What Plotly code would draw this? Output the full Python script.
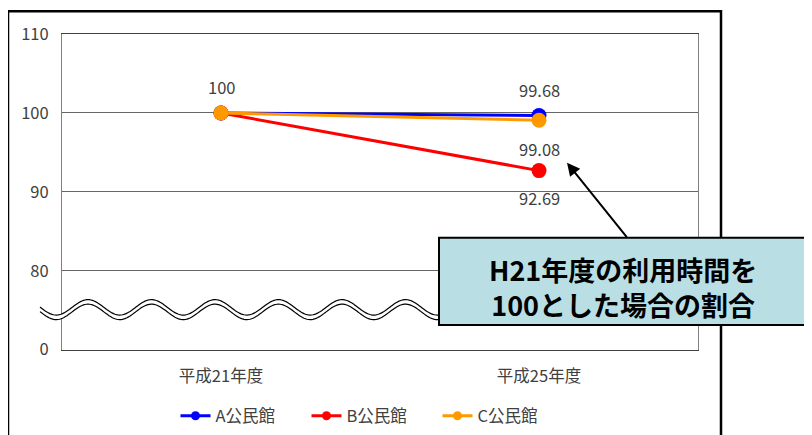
import numpy as np
import plotly.graph_objects as go

# ---- data ----
categories = ["平成21年度", "平成25年度"]
series_names = ["A公民館", "B公民館", "C公民館"]
a_values = [100, 99.68]
b_values = [100, 92.69]
c_values = [100, 99.08]
y_tick_vals = [70, 80, 90, 100, 110]
y_tick_text = ["0", "80", "90", "100", "110"]
callout_text = "H21年度の利用時間を<br>100とした場合の割合"

colors = ["#0000FF", "#FF0000", "#FF9900"]
values = [a_values, b_values, c_values]
FONT = "Noto Sans CJK JP"
TXT = "#404040"
FS = 16.5

# page is rendered with an 8px body margin
OFF = 8
W, H = 812 - OFF, 435 - OFF
L, R, T, B = 62 - OFF, 698 - OFF, 34 - OFF, 353 - OFF


def px2paper(xp, yp):
    """page pixel coordinates -> paper coordinates"""
    xp -= OFF
    yp -= OFF
    return (xp - L) / (R - L), (B - yp) / (B - T)


fig = go.Figure()
for name, vals, col in zip(series_names, values, colors):
    fig.add_trace(go.Scatter(
        x=categories, y=vals, mode="lines+markers", name=name,
        line=dict(color=col, width=3), marker=dict(color=col, size=15),
        showlegend=False, legendgroup=name, hoverinfo="x+y"))
for name, col in zip(series_names, colors):
    fig.add_trace(go.Scatter(
        x=[None], y=[None], mode="lines+markers", name=name,
        line=dict(color=col, width=3), marker=dict(color=col, size=9),
        legendgroup=name))

# data labels: (series index, point index, pixel shift)
label_specs = [(0, 0, 26), (0, 1, 25), (2, 1, -29), (1, 1, -27)]
annotations = []
for si, pi, shift in label_specs:
    v = values[si][pi]
    annotations.append(dict(
        x=categories[pi], y=v, xref="x", yref="y",
        text=f"{v:g}", showarrow=False, yshift=shift,
        font=dict(family=FONT, size=FS, color=TXT)))

shapes = []
# outer frame
fx0, fy0 = px2paper(8, 445)
fx1, fy1 = px2paper(721, 11)
shapes.append(dict(type="rect", xref="paper", yref="paper",
                   x0=fx0, y0=fy0, x1=fx1, y1=fy1,
                   line=dict(color="black", width=2.5), layer="above"))

# axis-break wave (decoration)
xs = np.arange(40, 447, 1.5)
center = 312.5 - 7.8 * np.cos(2 * np.pi * (xs - 88) / 63.5)
up = center - 2.3
lo = center + 2.3


def path_of(xa, ya):
    pts = [px2paper(x, y) for x, y in zip(xa, ya)]
    return "M " + " L ".join(f"{p[0]:.5f},{p[1]:.5f}" for p in pts)


fill_path = path_of(np.concatenate([xs, xs[::-1]]),
                    np.concatenate([up, lo[::-1]])) + " Z"
shapes.append(dict(type="path", xref="paper", yref="paper", path=fill_path,
                   fillcolor="white", line=dict(width=0), layer="above"))
for arr in (up, lo):
    shapes.append(dict(type="path", xref="paper", yref="paper",
                       path=path_of(xs, arr),
                       line=dict(color="black", width=1.2), layer="above"))

# callout box
bx0, by0 = px2paper(439, 328)
bx1, by1 = px2paper(810, 240)
shapes.append(dict(type="rect", xref="paper", yref="paper",
                   x0=bx0, y0=by0, x1=bx1, y1=by1,
                   fillcolor="#B9DFE5", line=dict(color="black", width=2),
                   layer="above"))

tx, ty = px2paper(623, 290)
annotations.append(dict(x=tx, y=ty, xref="paper", yref="paper",
                        text=f"<b>{callout_text}</b>", showarrow=False,
                        font=dict(family=FONT, size=27, color="black"),
                        align="center", xanchor="center", yanchor="middle"))

ax_, ay_ = px2paper(567, 164)
annotations.append(dict(x=ax_, y=ay_, xref="paper", yref="paper", text="",
                        showarrow=True, ax=61, ay=76, arrowhead=2,
                        arrowsize=1.3, arrowwidth=2, arrowcolor="black",
                        standoff=0))

lgx, _ = px2paper(372, 410)
lgy_container = (H - (416 - OFF)) / H

fig.update_layout(
    width=W, height=H,
    margin=dict(l=L, r=W - R, t=T, b=H - B),
    paper_bgcolor="white", plot_bgcolor="white",
    font=dict(family=FONT, size=FS, color=TXT),
    showlegend=True,
    legend=dict(orientation="h", x=lgx, xanchor="center",
                y=lgy_container, yref="container",
                yanchor="middle", font=dict(family=FONT, size=FS, color=TXT),
                entrywidth=86, entrywidthmode="pixels",
                bgcolor="rgba(0,0,0,0)"),
    xaxis=dict(type="category", range=[-0.5, 1.5], showgrid=False,
               showline=True, linecolor="#404040", linewidth=1, mirror=True,
               ticks="", ticklabelstandoff=11,
               tickfont=dict(family=FONT, size=FS, color=TXT),
               fixedrange=True),
    yaxis=dict(range=[70, 110], tickvals=y_tick_vals, ticktext=y_tick_text,
               showgrid=True, gridcolor="#666666", gridwidth=1,
               zeroline=False, showline=True, linecolor="#808080",
               mirror=True, ticks="", ticklabelstandoff=9,
               tickfont=dict(family=FONT, size=FS, color=TXT),
               fixedrange=True),
    shapes=shapes, annotations=annotations,
)

fig.write_html("out.html")
